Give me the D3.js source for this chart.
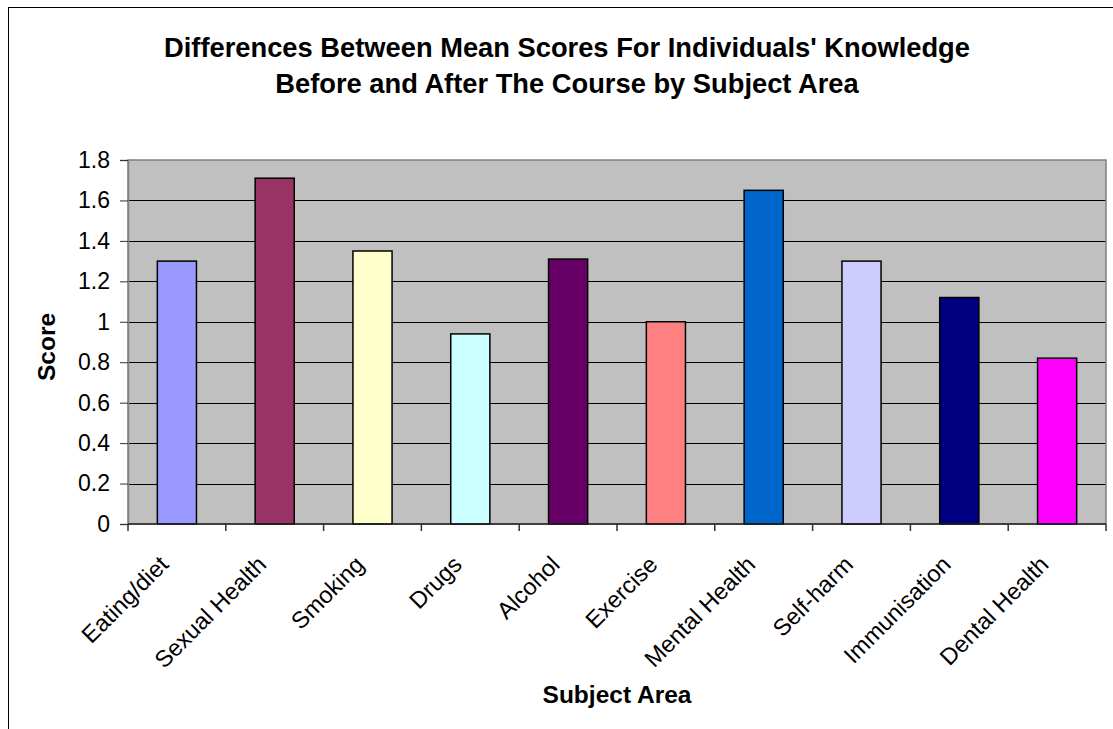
<!DOCTYPE html>
<html>
<head>
<meta charset="utf-8">
<script src="https://cdn.jsdelivr.net/npm/d3@7"></script>
<style>
  html, body { margin: 0; padding: 0; background: #fff; }
  svg { display: block; font-family: Arial, "Liberation Sans", sans-serif; }
</style>
</head>
<body>
<svg id="chart" width="1113" height="729"></svg>
<script>
// Subject areas and mean score differences (after minus before)
const categories = ["Eating/diet", "Sexual Health", "Smoking", "Drugs", "Alcohol",
                    "Exercise", "Mental Health", "Self-harm", "Immunisation", "Dental Health"];
const scores = [1.30, 1.71, 1.35, 0.94, 1.31, 1.00, 1.65, 1.30, 1.12, 0.82];
const barColors = ["#9999FF", "#993366", "#FFFFCC", "#CCFFFF", "#660066",
                   "#FF8080", "#0066CC", "#CCCCFF", "#000080", "#FF00FF"];
const yTicks = [0, 0.2, 0.4, 0.6, 0.8, 1, 1.2, 1.4, 1.6, 1.8];
const titleLines = ["Differences Between Mean Scores For Individuals' Knowledge",
                    "Before and After The Course by Subject Area"];
const xTitle = "Subject Area";
const yTitle = "Score";

const svg = d3.select("#chart");

// Chart frame
svg.append("rect")
  .attr("x", 8.5).attr("y", 7.5)
  .attr("width", 1300).attr("height", 900)
  .attr("fill", "#fff").attr("stroke", "#000").attr("stroke-width", 1);

const plot = { left: 128, right: 1106, top: 160, bottom: 524 };

const x = d3.scaleBand()
  .domain(categories)
  .range([plot.left, plot.right])
  .paddingInner(0.6).paddingOuter(0.3);

const xEdge = d3.scaleLinear().domain([0, categories.length]).range([plot.left, plot.right]);

const y = d3.scaleLinear().domain([0, 1.8]).range([plot.bottom, plot.top]);

// Plot area background
svg.append("rect")
  .attr("x", plot.left).attr("y", plot.top)
  .attr("width", plot.right - plot.left).attr("height", plot.bottom - plot.top)
  .attr("fill", "#C0C0C0");

// Gridlines
svg.append("g")
  .selectAll("line")
  .data(yTicks.filter(d => d > 0 && d < 1.8))
  .join("line")
  .attr("x1", plot.left).attr("x2", plot.right)
  .attr("y1", d => Math.round(y(d)) + 0.5).attr("y2", d => Math.round(y(d)) + 0.5)
  .attr("stroke", "#000").attr("stroke-width", 1);

// Plot area border
svg.append("rect")
  .attr("x", plot.left).attr("y", plot.top)
  .attr("width", plot.right - plot.left).attr("height", plot.bottom - plot.top)
  .attr("fill", "none").attr("stroke", "#808080").attr("stroke-width", 1.5);

// Bars
svg.append("g")
  .selectAll("rect")
  .data(categories)
  .join("rect")
  .attr("x", d => x(d))
  .attr("y", (d, i) => y(scores[i]))
  .attr("width", x.bandwidth())
  .attr("height", (d, i) => y(0) - y(scores[i]))
  .attr("fill", (d, i) => barColors[i])
  .attr("stroke", "#000").attr("stroke-width", 1.5);

// Y axis
const yAxis = d3.axisLeft(y)
  .tickValues(yTicks)
  .tickFormat(d3.format("~g"))
  .tickSize(8).tickPadding(10);

const gy = svg.append("g")
  .attr("transform", `translate(${plot.left},0)`)
  .call(yAxis);
gy.select(".domain").attr("stroke", "#808080").attr("stroke-width", 1.5);
gy.selectAll(".tick line").attr("stroke", "#333");
gy.selectAll(".tick text")
  .attr("font-size", 23).attr("fill", "#000")
  .attr("font-family", "Arial, 'Liberation Sans', sans-serif");

// X axis line and category boundary ticks
const gx = svg.append("g");
gx.append("line")
  .attr("x1", plot.left).attr("x2", plot.right)
  .attr("y1", plot.bottom).attr("y2", plot.bottom)
  .attr("stroke", "#222").attr("stroke-width", 1.5);
gx.selectAll("line.tick")
  .data(d3.range(categories.length + 1))
  .join("line")
  .attr("class", "tick")
  .attr("x1", d => xEdge(d)).attr("x2", d => xEdge(d))
  .attr("y1", plot.bottom).attr("y2", plot.bottom + 7)
  .attr("stroke", "#333").attr("stroke-width", 1.5);

// Rotated category labels
gx.selectAll("text")
  .data(categories)
  .join("text")
  .attr("transform", d => `translate(${x(d) + x.bandwidth() / 2 - 7},${plot.bottom + 42}) rotate(-45)`)
  .attr("text-anchor", "end")
  .attr("font-size", 23.5)
  .attr("fill", "#000")
  .text(d => d);

// Title
svg.append("g")
  .selectAll("text")
  .data(titleLines)
  .join("text")
  .attr("x", 567)
  .attr("y", (d, i) => 57 + i * 36)
  .attr("text-anchor", "middle")
  .attr("font-size", 27.3)
  .attr("font-weight", "bold")
  .text(d => d);

// Axis titles
svg.append("text")
  .attr("x", (plot.left + plot.right) / 2)
  .attr("y", 703)
  .attr("text-anchor", "middle")
  .attr("font-size", 24.5)
  .attr("font-weight", "bold")
  .text(xTitle);

svg.append("text")
  .attr("transform", `translate(55,347) rotate(-90)`)
  .attr("text-anchor", "middle")
  .attr("font-size", 24.5)
  .attr("font-weight", "bold")
  .text(yTitle);
</script>
</body>
</html>
